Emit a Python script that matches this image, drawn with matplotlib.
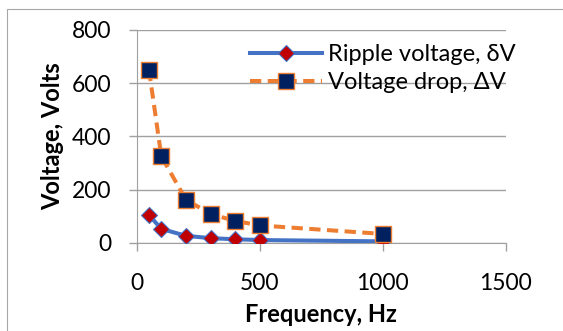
import matplotlib
matplotlib.use("Agg")
from matplotlib import pyplot as plt
from matplotlib.patches import Rectangle

# data
frequency = [50, 100, 200, 300, 400, 500, 1000]
rippleVoltage = [104, 52, 26, 17, 13, 10, 5]
voltageDrop = [650, 325, 162, 108, 82, 65, 33]

xTicks = [0, 500, 1000, 1500]
yTicks = [0, 200, 400, 600, 800]

plt.rcParams['font.family'] = ['Lato', 'DejaVu Sans']

W, H = 563, 331
fig = plt.figure(figsize=(W / 100, H / 100), dpi=100)

# chart area outline (cut off on the right and bottom)
fig.patches.append(Rectangle((7.3 / W, -0.1), 1.2, 1 - 9 / H + 0.1, transform=fig.transFigure,
                             fill=False, edgecolor='#A6A6A6', linewidth=0.8))

left, right, top, bottom = 136.7, 505.7, 30, 242.7
ax = fig.add_axes([left / W, 1 - bottom / H, (right - left) / W, (bottom - top) / H])

ax.plot(frequency, rippleVoltage, color='#4472C4', lw=2.9, marker='D', markersize=8,
        markerfacecolor='#C00000', markeredgecolor='#4472C4', markeredgewidth=0.8,
        label='Ripple voltage, δV', zorder=3)
ax.plot(frequency, voltageDrop, color='#ED7D31', lw=2.9, linestyle=(0, (2.8, 1.6)), marker='s',
        markersize=12, markerfacecolor='#002060', markeredgecolor='#ED7D31', markeredgewidth=1.0,
        label='Voltage drop, ΔV', zorder=4)

ax.set_xlim(0, 1500)
ax.set_ylim(0, 800)
ax.set_xticks(xTicks)
ax.set_yticks(yTicks)

ax.grid(axis='y', color='#A0A0A0', lw=1.0)
ax.set_axisbelow(True)
for side in ['top', 'right']:
    ax.spines[side].set_visible(False)
ax.spines['left'].set_color('#A0A0A0')
ax.spines['bottom'].set_color('#A0A0A0')
ax.tick_params(axis='both', color='#A0A0A0', length=6, width=1.0, labelsize=16.5, direction='out')
ax.tick_params(axis='x', pad=16)
ax.tick_params(axis='y', pad=12.5)

ax.set_xlabel('Frequency, Hz', fontsize=17, fontweight='bold', labelpad=6)
ax.set_ylabel('Voltage, Volts', fontsize=17, fontweight='bold', labelpad=5)

ax.legend(loc='upper left', bbox_to_anchor=(250 / W, 1 - 44 / H), bbox_transform=fig.transFigure,
          frameon=False, fontsize=17, handlelength=3.04, handletextpad=0.28, labelspacing=0.3,
          borderpad=0, borderaxespad=0)

fig.savefig('out.png', dpi=100, facecolor='white')
